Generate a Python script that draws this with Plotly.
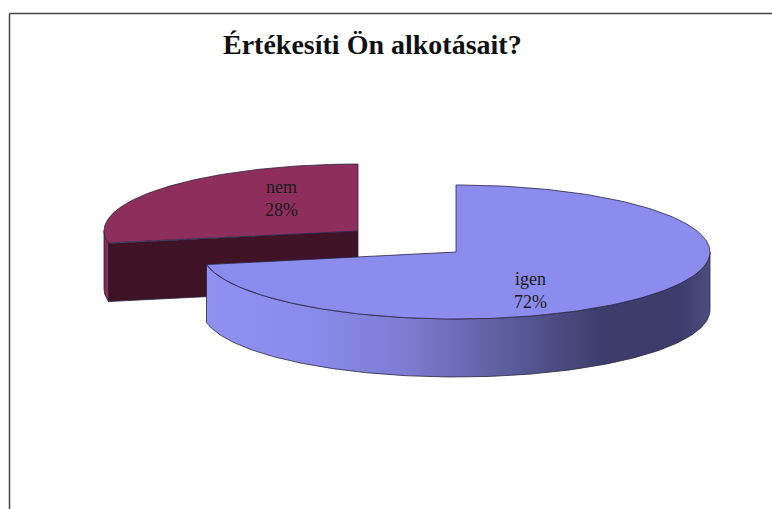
import numpy as np
import plotly.graph_objects as go

TITLE = "Értékesíti Ön alkotásait?"
labels = ["igen", "nem"]
values = [72, 28]

W, H = 772, 509
RX, RY, DEPTH = 254, 67, 58
CENTERS = {"igen": (456, 252), "nem": (358, 231)}
LABEL_OFFSET = {"igen": (74, 38), "nem": (-77, -33)}
TOP = {"igen": "#8C8CEE", "nem": "#8E2E5C"}
INNER = "#3F1226"
EDGE = "#2A2440"
SERIF = "Liberation Serif, Times New Roman, serif"


def arc(cx, cy, a0, a1):
    t = np.radians(np.linspace(a0, a1, 181))
    return cx + RX * np.sin(t), cy - RY * np.cos(t)


total = sum(values)
spans, start = {}, 0.0
for name, v in zip(labels, values):
    spans[name] = (start, start + 360.0 * v / total)
    start += 360.0 * v / total

fig = go.Figure()


def add_poly(x, y, color=None, gradient=None, line=EDGE, lw=0.8):
    kw = dict(fillgradient=gradient) if gradient else dict(fillcolor=color)
    fig.add_trace(go.Scatter(
        x=list(x), y=list(y), mode="lines", fill="toself",
        line=dict(color=line, width=lw), hoverinfo="skip", showlegend=False, **kw))


def side(cx, cy, a0, a1, gradient):
    xa, ya = arc(cx, cy, a0, a1)
    add_poly(np.r_[xa, xa[::-1], xa[0]], np.r_[ya, ya[::-1] + DEPTH, ya[0]], gradient=gradient)


def top(name):
    cx, cy = CENTERS[name]
    xa, ya = arc(cx, cy, *spans[name])
    add_poly(np.r_[cx, xa, cx], np.r_[cy, ya, cy], color=TOP[name])


# nem: outer strip, cut face, top
cx, cy = CENTERS["nem"]
a0, a1 = spans["nem"]
side(cx, cy, a0, 270, dict(type="horizontal",
     colorscale=[[0, "#7E2950"], [1, "#8E2E5C"]]))
xc, yc = arc(cx, cy, a0, a0)
add_poly([cx, xc[0], xc[0], cx, cx],
         [cy, yc[0], yc[0] + DEPTH, cy + DEPTH, cy], color=INNER)
top("nem")

# igen: outer side with shading, top
cx, cy = CENTERS["igen"]
a0, a1 = spans["igen"]
side(cx, cy, 90, a1, dict(type="horizontal", colorscale=[
    [0.00, "#9090F0"], [0.22, "#8A8AEA"], [0.40, "#7C7CD2"],
    [0.60, "#5C5C9C"], [0.78, "#3D3D6C"], [0.94, "#3D3D6C"], [1.00, "#4C4C80"]]))
top("igen")

annotations = []
for name, v in zip(labels, values):
    cx, cy = CENTERS[name]
    dx, dy = LABEL_OFFSET[name]
    annotations.append(dict(
        x=cx + dx, y=cy + dy, xref="x", yref="y", showarrow=False,
        text=f"{name}<br>{round(100 * v / total)}%",
        font=dict(family=SERIF, size=18, color="#1a1a1a"), align="center"))
annotations.append(dict(
    x=372, y=44, xref="x", yref="y", showarrow=False, text=f"<b>{TITLE}</b>",
    font=dict(family=SERIF, size=28, color="#111111")))

fig.update_layout(
    width=W, height=H, margin=dict(l=0, r=0, t=0, b=0),
    paper_bgcolor="white", plot_bgcolor="white", showlegend=False,
    xaxis=dict(range=[0, W], visible=False, fixedrange=True),
    yaxis=dict(range=[H, 0], visible=False, fixedrange=True),
    annotations=annotations,
    shapes=[
        dict(type="line", x0=9.5, x1=9.5, y0=13.5, y1=H, line=dict(color="#444444", width=1.5)),
        dict(type="line", x0=9.5, x1=W, y0=13.5, y1=13.5, line=dict(color="#444444", width=1.5)),
    ],
)
fig.write_html("out.html", config=dict(displayModeBar=False),
               post_script="document.body.style.margin='0';document.documentElement.style.overflow='hidden';")
